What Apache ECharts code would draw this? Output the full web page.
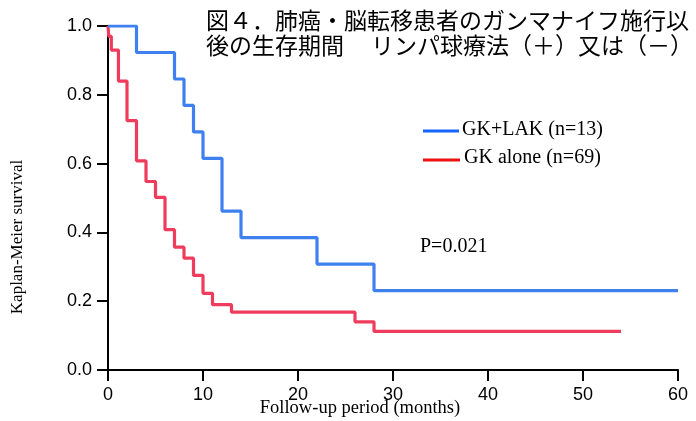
<!DOCTYPE html>
<html>
<head>
<meta charset="utf-8">
<script src="https://cdn.jsdelivr.net/npm/echarts@6/dist/echarts.min.js"></script>
<style>
html,body{margin:0;padding:0;background:#fff;}
#chart{width:696px;height:421px;}
</style>
</head>
<body>
<div id="chart"></div>
<script>
// ---- data ----
var titleLine1 = '図４．肺癌・脳転移患者のガンマナイフ施行以';
var titleLine2a = '後の生存期間';
var titleLine2b = 'リンパ球療法（＋）又は（－）';
var xAxisTitle = 'Follow-up period (months)';
var yAxisTitle = 'Kaplan-Meier survival';
var seriesNames = ['GK+LAK (n=13)', 'GK alone (n=69)'];
var pValueText = 'P=0.021';

// GK+LAK (blue) : months and survival
var lakMonths = [0, 3, 7, 8, 9, 10, 12, 14, 22, 28, 60];
var lakSurv   = [1.0, 0.923, 0.846, 0.769, 0.692, 0.615, 0.462, 0.385, 0.308, 0.231, 0.231];

// GK alone (red) : months and survival
var aloneMonths = [0, 0.08, 0.35, 1.1, 2, 3, 4, 5, 6, 7, 8, 9, 10, 11, 13, 26, 28, 54];
var aloneSurv   = [1.0, 0.97, 0.93, 0.84, 0.725, 0.608, 0.548, 0.502, 0.408, 0.357, 0.325, 0.275, 0.223, 0.19, 0.168, 0.14, 0.112, 0.112];

function pairs(xs, ys){ return xs.map(function(x,i){ return [x, ys[i]]; }); }

var chart = echarts.init(document.getElementById('chart'), null, {renderer:'canvas'});
var grid = {left:108, right:18, top:26, bottom:51};

var option = {
  animation:false,
  backgroundColor:'#ffffff',
  grid: grid,
  xAxis: {
    type:'value', min:0, max:60, interval:10,
    axisLine:{show:true, onZero:false, lineStyle:{color:'#000', width:2}},
    axisTick:{show:true, inside:false, length:11, lineStyle:{color:'#000', width:2}},
    axisLabel:{color:'#000', fontFamily:'Liberation Sans', fontSize:18, margin:16},
    splitLine:{show:false}
  },
  yAxis: {
    type:'value', min:0, max:1, interval:0.2,
    axisLine:{show:true, onZero:false, lineStyle:{color:'#000', width:2}},
    axisTick:{show:true, inside:false, length:11, lineStyle:{color:'#000', width:2}},
    axisLabel:{color:'#000', fontFamily:'Liberation Sans', fontSize:18, margin:16,
      formatter:function(v){ return v.toFixed(1); }},
    splitLine:{show:false}
  },
  series: [
    {
      name: seriesNames[1], type:'line', step:'end', showSymbol:false, symbol:'none',
      data: pairs(aloneMonths, aloneSurv),
      lineStyle:{color:'#ef3b5c', width:3.2},
      itemStyle:{color:'#ef3b5c'}
    },
    {
      name: seriesNames[0], type:'line', step:'end', showSymbol:false, symbol:'none',
      data: pairs(lakMonths, lakSurv),
      lineStyle:{color:'#3e80f0', width:3.2},
      itemStyle:{color:'#3e80f0'}
    }
  ],
  graphic: [
    {type:'text', x:206, y:20, style:{text:titleLine1, font:'normal 23px "Noto Sans CJK JP"', fill:'#000', textAlign:'left', textVerticalAlign:'middle'}},
    {type:'text', x:206, y:45, style:{text:titleLine2a, font:'normal 23px "Noto Sans CJK JP"', fill:'#000', textAlign:'left', textVerticalAlign:'middle'}},
    {type:'text', x:693, y:45, style:{text:titleLine2b, font:'normal 23px "Noto Sans CJK JP"', fill:'#000', textAlign:'right', textVerticalAlign:'middle'}},
    // legend
    {type:'line', shape:{x1:423, y1:131, x2:459, y2:131}, style:{stroke:'#1565ff', lineWidth:3}},
    {type:'text', x:462, y:130, style:{text:seriesNames[0], font:'20px "Liberation Serif"', fill:'#000', textAlign:'left', textVerticalAlign:'middle'}},
    {type:'line', shape:{x1:423, y1:160, x2:460, y2:160}, style:{stroke:'#ee1111', lineWidth:3}},
    {type:'text', x:464, y:158, style:{text:seriesNames[1], font:'20px "Liberation Serif"', fill:'#000', textAlign:'left', textVerticalAlign:'middle'}},
    {type:'text', x:420, y:247, style:{text:pValueText, font:'20px "Liberation Serif"', fill:'#000', textAlign:'left', textVerticalAlign:'middle'}},
    // axis titles
    {type:'text', x:360, y:408, style:{text:xAxisTitle, font:'18.5px "Liberation Serif"', fill:'#000', textAlign:'center', textVerticalAlign:'middle'}},
    {type:'text', x:18, y:237, rotation:Math.PI/2, style:{text:yAxisTitle, font:'17px "Liberation Serif"', fill:'#000', textAlign:'center', textVerticalAlign:'middle'}}
  ]
};
chart.setOption(option);
</script>
</body>
</html>
